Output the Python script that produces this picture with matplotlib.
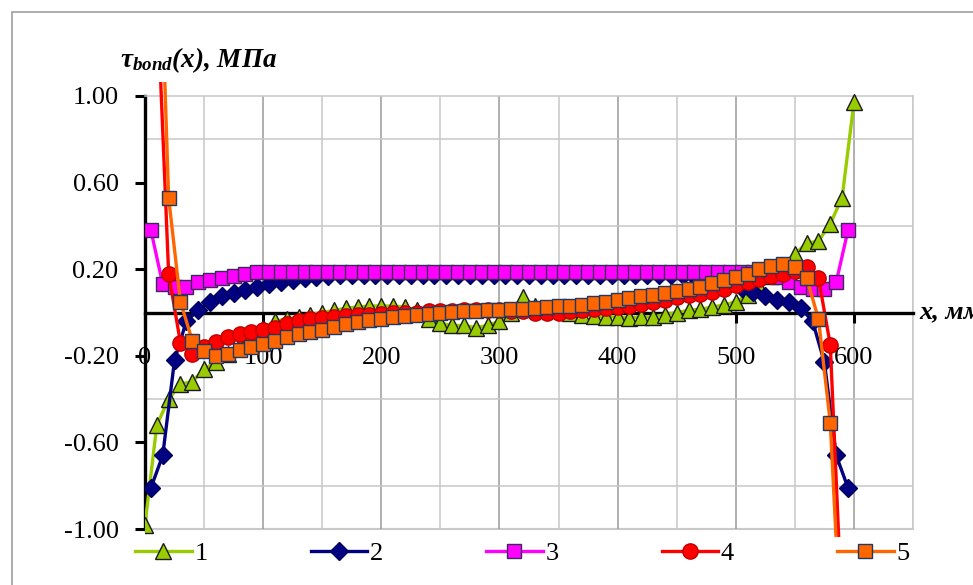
import numpy as np
import matplotlib
matplotlib.use('Agg')
import matplotlib.pyplot as plt
from matplotlib.ticker import FixedLocator, FuncFormatter
from matplotlib.patches import Rectangle
from matplotlib.transforms import Bbox, TransformedBbox

plt.rcParams['font.family'] = ['Liberation Serif', 'DejaVu Serif']
plt.rcParams['mathtext.fontset'] = 'custom'
plt.rcParams['mathtext.it'] = 'Liberation Serif:bold:italic'
plt.rcParams['mathtext.rm'] = 'Liberation Serif:bold:italic'
plt.rcParams['mathtext.bf'] = 'Liberation Serif:bold:italic'

# ---------------- data ----------------
x_s1 = list(range(0, 601, 10))
s1 = [-0.98, -0.52, -0.40, -0.33, -0.32, -0.26, -0.23, -0.19, -0.15, -0.11,
      -0.07, -0.04, -0.03, -0.02, -0.01, 0.00, 0.01, 0.02, 0.025, 0.03,
      0.03, 0.03, 0.025, 0.01, -0.03, -0.05, -0.06, -0.06, -0.07, -0.06,
      -0.04, 0.00, 0.07, 0.03, 0.02, 0.01, 0.00, -0.01, -0.015, -0.02,
      -0.02, -0.025, -0.02, -0.02, -0.01, 0.00, 0.01, 0.015, 0.025, 0.035,
      0.05, 0.08, 0.12, 0.17, 0.22, 0.27, 0.32, 0.33, 0.41, 0.53,
      0.97]

x_s2 = list(range(5, 596, 10))
s2 = [-0.81, -0.66, -0.22, -0.04, 0.01, 0.05, 0.075, 0.09, 0.105, 0.12,
      0.13, 0.14, 0.15, 0.158, 0.165, 0.17] + [0.175] * 30 + \
     [0.17, 0.16, 0.15, 0.135, 0.115, 0.095, 0.075, 0.06, 0.05, 0.02,
      -0.04, -0.23, -0.66, -0.81]

x_s3 = list(range(5, 596, 10))
s3 = [0.38, 0.13, 0.12, 0.12, 0.14, 0.15, 0.16, 0.17, 0.18] + [0.185] * 43 + \
     [0.18, 0.165, 0.14, 0.12, 0.11, 0.11, 0.14, 0.38]

x_s4 = list(range(10, 591, 10))
s4 = [1.5, 0.18, -0.14, -0.19, -0.16, -0.135, -0.115, -0.10, -0.09, -0.08,
      -0.07, -0.055, -0.04, -0.03, -0.025, -0.02, -0.015, -0.01, -0.01, -0.005,
      0.0, 0.0, 0.0, 0.005, 0.005, 0.005, 0.01, 0.01, 0.01, 0.01,
      0.005, 0.005, 0.0, 0.0, 0.0, 0.005, 0.01, 0.015, 0.02, 0.025,
      0.03, 0.04, 0.05, 0.06, 0.07, 0.08, 0.085, 0.095, 0.11, 0.125,
      0.14, 0.155, 0.17, 0.18, 0.19, 0.21, 0.16, -0.15, -1.4]

x_s5 = list(range(10, 591, 10))
s5 = [2.2, 0.53, 0.05, -0.13, -0.18, -0.20, -0.19, -0.175, -0.16, -0.145,
      -0.13, -0.115, -0.10, -0.09, -0.08, -0.065, -0.055, -0.045, -0.035, -0.03,
      -0.02, -0.015, -0.01, -0.005, 0.0, 0.003, 0.006, 0.008, 0.01, 0.012,
      0.015, 0.018, 0.02, 0.024, 0.028, 0.032, 0.036, 0.042, 0.05, 0.058,
      0.066, 0.074, 0.082, 0.09, 0.10, 0.11, 0.12, 0.135, 0.15, 0.165,
      0.18, 0.20, 0.215, 0.225, 0.21, 0.16, -0.03, -0.51, -1.6]

labels = ['1', '2', '3', '4', '5']
x_ticks = [0, 100, 200, 300, 400, 500, 600]
y_ticks = [-1.0, -0.6, -0.2, 0.2, 0.6, 1.0]

# ---------------- figure ----------------
W, H = 973, 585
fig = plt.figure(figsize=(W / 100, H / 100), dpi=100)
fig.patch.set_facecolor('white')
L, R, T, B = 145, 913, 96, 529
ax = fig.add_axes([L / W, 1 - B / H, (R - L) / W, (B - T) / H])
ax.set_xlim(0, 650)
ax.set_ylim(-1, 1)

clip = TransformedBbox(Bbox([[L / W, 1 - 537 / H], [R / W, 1 - 82 / H]]), fig.transFigure)

styles = [
    dict(color='#99CC00', marker='^', ms=12, mfc='#99CC00', mec='#1a1a1a'),
    dict(color='#000080', marker='D', ms=9, mfc='#000080', mec='#000060'),
    dict(color='#FF00FF', marker='s', ms=10, mfc='#FF00FF', mec='#3a2a5a'),
    dict(color='#FF0000', marker='o', ms=11, mfc='#FF0000', mec='#C00000'),
    dict(color='#FF6600', marker='s', ms=10.5, mfc='#FF6600', mec='#1F3864'),
]
data = [(x_s1, s1), (x_s2, s2), (x_s3, s3), (x_s4, s4), (x_s5, s5)]
for i, ((xs, ys), st, lab) in enumerate(zip(data, styles, labels)):
    ln, = ax.plot(xs, ys, lw=2.4, mew=1.0, label=lab, zorder=3 + i, **st)
    ln.set_clip_box(clip)

# grid
ax.xaxis.set_major_locator(FixedLocator(x_ticks))
ax.xaxis.set_minor_locator(FixedLocator([50, 150, 250, 350, 450, 550, 650]))
ax.yaxis.set_major_locator(FixedLocator(y_ticks))
ax.yaxis.set_minor_locator(FixedLocator(list(np.round(np.arange(-1, 1.01, 0.2), 2))))
ax.grid(True, which='minor', axis='both', color='#C8C8C8', lw=1.1, zorder=0)
ax.grid(True, which='major', axis='x', color='#9A9A9A', lw=1.1, zorder=0)
ax.set_axisbelow(True)
ax.axhline(-1, color='#C8C8C8', lw=1.5, clip_on=False, zorder=0)

ax.yaxis.set_major_formatter(FuncFormatter(lambda v, p: f'{v:.2f}'))
ax.xaxis.set_major_formatter(FuncFormatter(lambda v, p: f'{int(v)}'))

for s in ['top', 'right']:
    ax.spines[s].set_color('#C8C8C8')
    ax.spines[s].set_linewidth(1.1)
ax.spines['bottom'].set_position(('data', 0))
ax.spines['bottom'].set_linewidth(2.4)
ax.spines['bottom'].set_color('black')
ax.spines['bottom'].set_zorder(2.5)
ax.spines['left'].set_linewidth(2.4)
ax.spines['left'].set_color('black')

ax.tick_params(which='minor', length=0)
ax.tick_params(axis='x', which='major', direction='out', length=7, width=2.2,
               pad=18, labelsize=19)
ax.tick_params(axis='y', which='major', direction='out', length=7, width=2.2,
               pad=12, labelsize=19)

# axis titles
fig.text(120 / W, 1 - 60 / H, r'$\tau_{bond}(x)$, МПа', fontsize=19.5,
         fontweight='bold', fontstyle='italic', ha='left', va='center')
fig.text(919 / W, 1 - 312 / H, 'x, мм', fontsize=19,
         fontweight='bold', fontstyle='italic', ha='left', va='center')

# legend
ax.legend(loc='center left', bbox_to_anchor=(135 / W, 1 - 553 / H),
          bbox_transform=fig.transFigure, ncol=5, frameon=False,
          handlelength=2.15, handletextpad=0.1, columnspacing=3.9,
          borderpad=0, borderaxespad=0, fontsize=19, numpoints=1)

# outer chart frame
fig.add_artist(Rectangle((12 / W, -0.5), 2, 1 - 12 / H + 0.5,
                         transform=fig.transFigure, fill=False,
                         edgecolor='#A0A0A0', lw=1.2))

fig.savefig('out.png', dpi=100)
